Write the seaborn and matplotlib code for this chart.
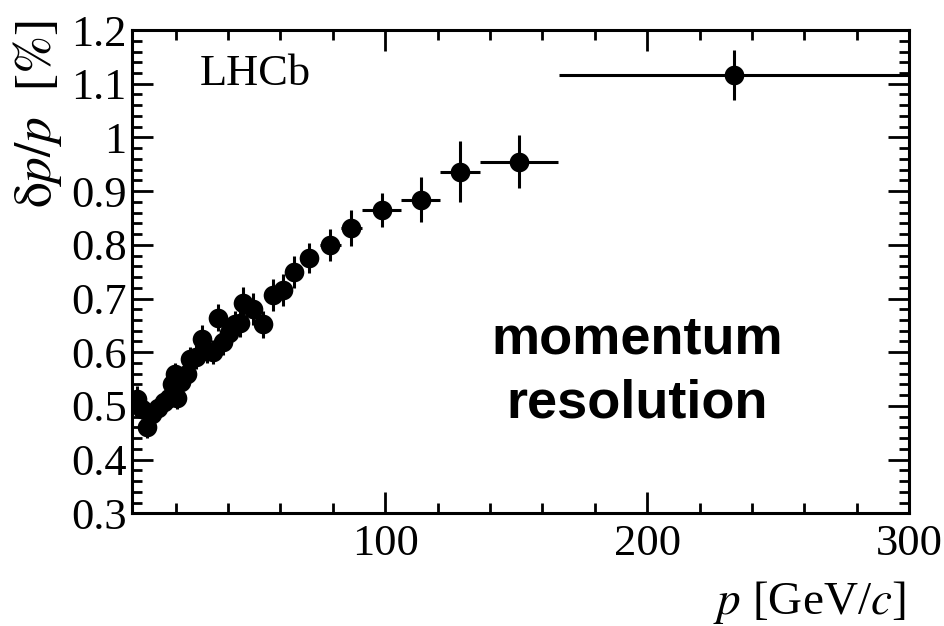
import numpy as np
import pandas as pd
import matplotlib
matplotlib.use("Agg")
import matplotlib.pyplot as plt
from matplotlib.ticker import MultipleLocator
import seaborn as sns

# Momentum bins: centre, half-width, resolution and its uncertainty
p_center = [5.2, 7.2, 9.0, 11.0, 13.2, 15.4, 17.6, 18.8, 19.6, 20.6, 22.2, 24.3,
            25.6, 27.9, 30.0, 32.0, 34.1, 36.1, 38.0, 40.2, 42.6, 44.4, 45.9,
            49.4, 53.2, 57.0, 61.0, 65.0, 71.1, 79.0, 87.0, 98.6, 113.6, 128.6,
            151.1, 233.2]
p_halfwidth = [1.0, 1.0, 1.0, 1.0, 1.0, 1.0, 1.0, 1.0, 1.0, 1.0, 1.0, 1.0,
               1.0, 1.0, 1.0, 1.0, 1.0, 1.0, 1.0, 1.0, 1.0, 1.0, 1.0,
               1.5, 2.0, 2.0, 2.0, 2.0, 3.0, 4.0, 4.0, 7.5, 7.5, 7.5,
               15.0, 67.0]
resolution = [0.513, 0.495, 0.460, 0.485, 0.497, 0.507, 0.514, 0.541, 0.560,
              0.515, 0.545, 0.560, 0.588, 0.591, 0.625, 0.602, 0.600, 0.664,
              0.619, 0.636, 0.652, 0.654, 0.692, 0.681, 0.652, 0.706, 0.716,
              0.750, 0.776, 0.800, 0.831, 0.865, 0.884, 0.936, 0.955, 1.116]
resolution_err = [0.025, 0.02, 0.02, 0.02, 0.02, 0.02, 0.02, 0.02, 0.02,
                  0.02, 0.02, 0.02, 0.022, 0.022, 0.025, 0.022, 0.022, 0.025,
                  0.025, 0.025, 0.025, 0.025, 0.03, 0.03, 0.025, 0.03, 0.03,
                  0.03, 0.028, 0.03, 0.034, 0.032, 0.042, 0.057, 0.05, 0.046]
y_tick_values = [0.3, 0.4, 0.5, 0.6, 0.7, 0.8, 0.9, 1.0, 1.1, 1.2]
y_tick_labels = ["0.3", "0.4", "0.5", "0.6", "0.7", "0.8", "0.9", "1",
                 "1.1", "1.2"]
x_tick_values = [100, 200, 300]
x_tick_labels = ["100", "200", "300"]

df = pd.DataFrame({"p": p_center, "dp": p_halfwidth,
                   "res": resolution, "err": resolution_err})

sns.set_theme(style="ticks")
plt.rcParams["font.family"] = ["Liberation Serif", "DejaVu Serif"]
plt.rcParams["mathtext.fontset"] = "stix"
for key in ("text.color", "axes.labelcolor", "xtick.color", "ytick.color",
            "axes.edgecolor"):
    plt.rcParams[key] = "black"

fig = plt.figure(figsize=(9.44, 6.26), dpi=100)
ax = fig.add_axes([0.140, 0.180, 0.823, 0.772])

ax.errorbar(df["p"], df["res"], xerr=df["dp"], yerr=df["err"],
            fmt="none", ecolor="black", elinewidth=2.2, capsize=0, zorder=2)
sns.scatterplot(data=df, x="p", y="res", ax=ax, color="black", s=200,
                edgecolor="black", linewidth=0, zorder=3, legend=False)

ax.set_xlim(3.4, 300)
ax.set_ylim(0.3, 1.2)
ax.xaxis.set_minor_locator(MultipleLocator(20))
ax.yaxis.set_minor_locator(MultipleLocator(0.02))
ax.set_yticks(y_tick_values)
ax.set_yticklabels(y_tick_labels)
ax.set_xticks(x_tick_values)
ax.set_xticklabels(x_tick_labels)

ax.tick_params(which="both", direction="in", top=True, right=True,
               labelsize=32, width=2.0, colors="black")
ax.tick_params(axis="y", which="both", pad=4)
ax.tick_params(axis="x", which="both", pad=8)
ax.tick_params(which="major", length=15)
ax.tick_params(which="minor", length=7.5)
for s in ax.spines.values():
    s.set_linewidth(2.2)
    s.set_color("black")

ax.set_xlabel(r"$p$ [GeV/$c$]", fontsize=34, loc="right")
ax.xaxis.set_label_coords(0.996, -0.135)
ax.set_ylabel(r"$\mathrm{\delta}p/p$  [$\mathit{\%}$]", fontsize=37, loc="top")
ax.yaxis.set_label_coords(-0.088, 1.022)

ax.text(0.087, 0.91, "LHCb", transform=ax.transAxes, fontsize=32,
        ha="left", va="center")
ax.text(0.65, 0.294, "momentum\nresolution", transform=ax.transAxes,
        fontsize=39, fontweight="bold", family="Liberation Sans",
        ha="center", va="center", linespacing=1.35)

fig.savefig("out.png", dpi=100)
